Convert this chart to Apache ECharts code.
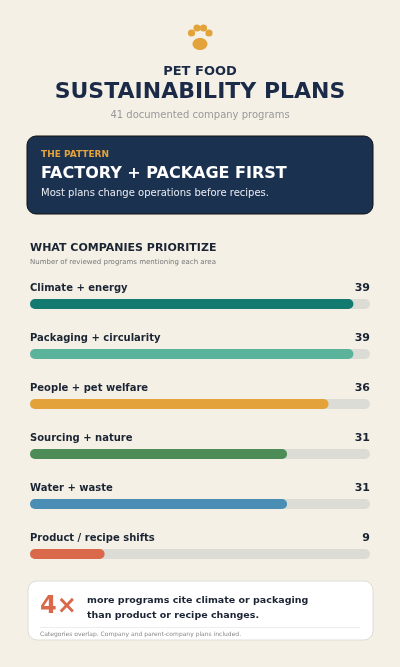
<!DOCTYPE html><html><head><meta charset="utf-8"><script src="https://cdn.jsdelivr.net/npm/echarts@6/dist/echarts.min.js"></script>
<style>html,body{margin:0;background:#f4f0e6}#c{width:400px;height:667px}</style></head><body><div id="c"></div><script>
const categories=["Climate + energy","Packaging + circularity","People + pet welfare","Sourcing + nature","Water + waste","Product / recipe shifts"];
const values=[39,39,36,31,31,9];
const colors=["#127a6e","#5bb39c","#e3a33a","#4e8c57","#4a8db5","#d9694a"];
const total=41;
const F="DejaVu Sans";
function T(x,y,text,fill,size,weight,extra){return {type:'text',x:x,y:y,style:Object.assign({text:text,fill:fill,fontFamily:F,fontSize:size,fontWeight:weight||'normal'},extra||{})};}
const ch=echarts.init(document.getElementById('c'));
ch.setOption({
backgroundColor:'#f4f0e6',animation:false,
textStyle:{fontFamily:F},
grid:{left:30,right:30,top:279,height:300},
xAxis:{type:'value',min:0,max:total,show:false},
yAxis:[{type:'category',data:categories,inverse:true,axisLine:{show:false},axisTick:{show:false},
 axisLabel:{inside:true,margin:0,verticalAlign:'bottom',padding:[0,0,11,0],color:'#1b2433',fontFamily:F,fontSize:10,fontWeight:'bold'}},
{type:'category',position:'right',data:values.map(String),inverse:true,axisLine:{show:false},axisTick:{show:false},
 axisLabel:{inside:true,margin:0,verticalAlign:'bottom',padding:[0,0,10,0],color:'#1b2433',fontFamily:F,fontSize:11,fontWeight:'bold'}}],
series:[{type:'bar',data:values.map((v,i)=>({value:v,itemStyle:{color:colors[i]}})),barWidth:10,
 itemStyle:{borderRadius:5},showBackground:true,backgroundStyle:{color:'#dcdcd6',borderRadius:5}}],
graphic:[
{type:'ellipse',shape:{cx:200,cy:44,rx:7.5,ry:6},style:{fill:'#e3a33a'}},
{type:'circle',shape:{cx:191.5,cy:33,r:3.6},style:{fill:'#e3a33a'}},
{type:'circle',shape:{cx:197,cy:28,r:3.6},style:{fill:'#e3a33a'}},
{type:'circle',shape:{cx:203.5,cy:28,r:3.6},style:{fill:'#e3a33a'}},
{type:'circle',shape:{cx:209,cy:33,r:3.6},style:{fill:'#e3a33a'}},
T(200,65,'PET FOOD','#1b2a47',13,'bold',{align:'center'}),
T(200,81,'SUSTAINABILITY PLANS','#1b2a47',22,'bold',{align:'center'}),
T(200,110,'41 documented company programs','#999',10,'normal',{align:'center'}),
{type:'rect',shape:{x:27,y:136,width:346,height:78,r:9},style:{fill:'#1b3150',stroke:'#111',lineWidth:1}},
T(41,150,'THE PATTERN','#e3a33a',9,'bold'),
T(41,166,'FACTORY + PACKAGE FIRST','#fff',16,'bold'),
T(41,188,'Most plans change operations before recipes.','#e8ecf2',10),
T(30,243,'WHAT COMPANIES PRIORITIZE','#1b2433',11,'bold'),
T(30,259,'Number of reviewed programs mentioning each area','#777',7),
{type:'rect',shape:{x:28,y:581,width:345,height:59,r:9},style:{fill:'#fff',stroke:'#dcdcd4',lineWidth:1}},
T(40,595,'4×','#d9694a',24,'bold'),
T(87,593,'more programs cite climate or packaging\nthan product or recipe changes.','#1b2433',9.5,'bold',{lineHeight:15}),
{type:'rect',shape:{x:40,y:627,width:320,height:1},style:{fill:'#ececec'}},
T(40,631,'Categories overlap. Company and parent-company plans included.','#888',6)
]});
</script></body></html>
